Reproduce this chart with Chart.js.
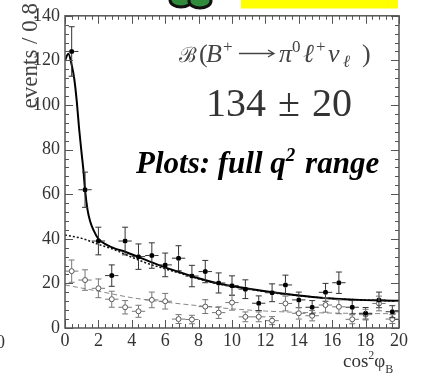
<!DOCTYPE html>
<html>
<head>
<meta charset="utf-8">
<script src="https://cdn.jsdelivr.net/npm/chart.js@4.4.1/dist/chart.umd.min.js"></script>
<style>
  html, body { margin: 0; padding: 0; background: #fff; }
  #wrap { position: relative; width: 422px; height: 383px; overflow: hidden; }
</style>
</head>
<body>
<div id="wrap"><canvas id="fitCanvas" width="422" height="383"></canvas></div>
<script>
// ===== 資料 =====
const binCenters = [0.4, 1.2, 2.0, 2.8, 3.6, 4.4, 5.2, 6.0, 6.8, 7.6, 8.4, 9.2, 10.0,
  10.8, 11.6, 12.4, 13.2, 14.0, 14.8, 15.6, 16.4, 17.2, 18.0, 18.8, 19.6];
const binHalfWidth = 0.4;

// signal region (filled points)
const sigCounts = [124, 62, 39, 23.5, 39, 32, 32.5, 28.3, 31.3, 23.3, 25.3, 20.2, 19,
  17.4, 11.1, 15.8, 19.3, 12.6, 9.3, 16, 20.3, 9.3, 6.6, 12.6, 7.3];
const sigErrors = [11.1, 7.9, 6.2, 4.8, 6.2, 5.7, 5.7, 5.3, 5.6, 4.8, 5.0, 4.5, 4.4,
  4.2, 3.3, 4.0, 4.4, 3.5, 3.0, 4.0, 4.8, 3.0, 2.6, 3.5, 2.7];

// sideband / control sample (open points)
const ctrlCounts = [25.5, 21.5, 17.8, 12.9, 9.3, 7.5, 12.6, 12.0, 4.0, 3.8, 9.6, 6.9, 11.4,
  5.0, 5.0, 3.3, 11.0, 6.6, 5.5, 10.3, 9.5, 3.9, 6.0, 11.0, 4.0];
const ctrlErrors = [5.0, 4.6, 4.2, 3.6, 3.0, 2.7, 3.5, 3.5, 2.0, 1.9, 3.1, 2.6, 3.4,
  2.2, 2.2, 1.8, 3.3, 2.6, 2.3, 3.2, 3.1, 2.0, 2.4, 3.3, 2.0];

// total fit (solid)
const totalFitX = [0, 0.2, 0.4, 0.55, 0.7, 0.85, 1.0, 1.1, 1.2, 1.35, 1.5, 1.7, 2.0, 2.5,
  3.0, 3.6, 4.4, 5, 6, 7, 8, 9, 10, 11, 12, 13, 14, 15, 16, 17, 18, 19, 20];
const totalFitY = [120, 123, 118, 112, 102, 89, 78, 71, 62, 53, 48, 44, 40, 37.3,
  35.6, 34.2, 31.8, 30, 27.2, 24.7, 22.3, 20.3, 18.8, 17.6, 16.5, 15.5, 14.6, 13.8,
  13.2, 12.8, 12.5, 12.3, 12.2];

// background part of the fit (dotted)
const bkgFitX = [0, 1, 2, 3, 3.6, 4.4, 5, 6, 7, 8, 9, 10, 11, 12, 13, 14, 15, 16, 17, 18, 19, 20];
const bkgFitY = [41.7, 40.2, 37.5, 35, 33, 30.5, 28.8, 26.5, 24.3, 22, 20.1, 18.6, 17.4,
  16.3, 15.3, 14.5, 13.8, 13.2, 12.8, 12.5, 12.3, 12.1];

// control sample fit (grey dashed)
const ctrlFitX = [0, 2, 4, 6, 8, 10, 12, 14, 16, 18, 20];
const ctrlFitY = [19.3, 16.5, 13.6, 11.6, 10, 8.6, 7.6, 7.0, 6.7, 6.5, 6.4];

const xTickStep = 2, xMinorStep = 0.4;
const yTickStep = 20, yMinorStep = 4;
const xRange = [0, 20], yRange = [0, 140];

const toPoints = (xs, ys) => xs.map((x, i) => ({ x, y: ys[i] }));

// ===== 誤差棒 =====
const errorBars = {
  id: "errorBars",
  afterDatasetsDraw(chart) {
    const { ctx } = chart;
    const xs = chart.scales.x, ys = chart.scales.y;
    chart.data.datasets.forEach((ds) => {
      if (!ds.yErr) return;
      const r = ds.pointRadius || 0;
      ctx.save();
      ctx.strokeStyle = ds.errColor;
      ctx.lineWidth = 1;
      ds.data.forEach((p, j) => {
        const px = xs.getPixelForValue(p.x);
        const py = ys.getPixelForValue(p.y);
        const top = ys.getPixelForValue(p.y + ds.yErr[j]);
        const bot = ys.getPixelForValue(Math.max(0, p.y - ds.yErr[j]));
        const xl = xs.getPixelForValue(p.x - binHalfWidth);
        const xr = xs.getPixelForValue(p.x + binHalfWidth);
        ctx.beginPath();
        ctx.moveTo(px, top); ctx.lineTo(px, py - r);
        ctx.moveTo(px, py + r); ctx.lineTo(px, bot);
        ctx.moveTo(px - 3, top); ctx.lineTo(px + 3, top);
        ctx.moveTo(px - 3, bot); ctx.lineTo(px + 3, bot);
        ctx.moveTo(xl, py); ctx.lineTo(px - r, py);
        ctx.moveTo(px + r, py); ctx.lineTo(xr, py);
        ctx.stroke();
      });
      ctx.restore();
    });
  },
};

// ===== 外框、刻度、文字 =====
function drawRich(ctx, parts, x, y) {
  let cx = x;
  parts.forEach((p) => {
    ctx.font = p.font;
    ctx.fillText(p.text, cx, y + (p.dy || 0));
    cx += ctx.measureText(p.text).width + (p.gap || 0);
  });
}

// 每個片段放在指定的 x 位置
function drawPlaced(ctx, parts, y) {
  parts.forEach((p) => {
    ctx.font = p.font;
    ctx.fillText(p.text, p.x, y + (p.dy || 0));
  });
}

const frameAndText = {
  id: "frameAndText",
  afterDraw(chart) {
    const { ctx, chartArea: a } = chart;
    const xs = chart.scales.x, ys = chart.scales.y;
    ctx.save();

    // frame
    ctx.strokeStyle = "#555";
    ctx.lineWidth = 1.5;
    ctx.strokeRect(a.left, a.top, a.right - a.left, a.bottom - a.top);

    // ticks on all four sides, pointing inward
    ctx.lineWidth = 1;
    ctx.beginPath();
    for (let v = xRange[0]; v <= xRange[1] + 1e-6; v += xMinorStep) {
      const major = Math.abs(v / xTickStep - Math.round(v / xTickStep)) < 1e-6;
      const len = major ? 8 : 4;
      const px = Math.round(xs.getPixelForValue(v)) + 0.5;
      ctx.moveTo(px, a.bottom); ctx.lineTo(px, a.bottom - len);
      ctx.moveTo(px, a.top); ctx.lineTo(px, a.top + len);
    }
    for (let v = yRange[0]; v <= yRange[1] + 1e-6; v += yMinorStep) {
      const major = v % yTickStep === 0;
      const len = major ? 8 : 4;
      const py = Math.round(ys.getPixelForValue(v)) + 0.5;
      ctx.moveTo(a.left, py); ctx.lineTo(a.left + len, py);
      ctx.moveTo(a.right, py); ctx.lineTo(a.right - len, py);
    }
    ctx.stroke();

    const f = "'Liberation Serif', 'DejaVu Serif', serif";

    // y axis title
    ctx.save();
    ctx.fillStyle = "#444";
    ctx.font = `23px ${f}`;
    ctx.translate(31, 3);
    ctx.rotate(-Math.PI / 2);
    ctx.textAlign = "right";
    ctx.textBaseline = "middle";
    ctx.fillText("events / 0.8", 0, 0);
    ctx.restore();

    // x axis title
    ctx.fillStyle = "#333";
    ctx.textBaseline = "alphabetic";
    drawRich(ctx, [
      { text: "cos", font: `19px ${f}` },
      { text: "2", font: `12px ${f}`, dy: -8 },
      { text: "φ", font: `19px ${f}` },
      { text: "B", font: `12px ${f}`, dy: 6 },
    ], 343, 367);

    // stray label from the neighbouring panel
    ctx.font = `18px ${f}`;
    ctx.textAlign = "right";
    ctx.fillText("0", 5, 348);
    ctx.textAlign = "left";

    // branching fraction label
    ctx.fillStyle = "#444";
    drawPlaced(ctx, [
      { text: "ℬ", font: `21px ${f}`, x: 179 },
      { text: "(", font: `26px ${f}`, x: 199 },
      { text: "B", font: `italic 26px ${f}`, x: 206 },
      { text: "+", font: `17px ${f}`, x: 223, dy: -10 },
      { text: "π", font: `italic 26px ${f}`, x: 279 },
      { text: "0", font: `17px ${f}`, x: 292, dy: -10 },
      { text: "ℓ", font: `italic 26px ${f}`, x: 303 },
      { text: "+", font: `17px ${f}`, x: 316, dy: -10 },
      { text: "ν", font: `italic 26px ${f}`, x: 328 },
      { text: "ℓ", font: `italic 17px ${f}`, x: 343, dy: 5 },
      { text: ")", font: `26px ${f}`, x: 362 },
    ], 62);
    // long arrow
    ctx.strokeStyle = "#444";
    ctx.lineWidth = 1.3;
    ctx.beginPath();
    ctx.moveTo(239, 53.5); ctx.lineTo(273, 53.5);
    ctx.moveTo(268, 50); ctx.lineTo(274, 53.5); ctx.lineTo(268, 57);
    ctx.stroke();

    ctx.fillStyle = "#333";
    drawRich(ctx, [
      { text: "134", font: `40px ${f}`, gap: 12 },
      { text: "±", font: `40px ${f}`, gap: 12 },
      { text: "20", font: `40px ${f}` },
    ], 206, 116);

    ctx.fillStyle = "#000";
    drawRich(ctx, [
      { text: "Plots: full q", font: `italic bold 31px ${f}` },
      { text: "2", font: `italic bold 19px ${f}`, dy: -12, gap: 2 },
      { text: " range", font: `italic bold 31px ${f}` },
    ], 136, 173);

    // header decorations (cut off at the top)
    ctx.fillStyle = "#ffff00";
    ctx.fillRect(241, 0, 157, 8.5);
    ctx.fillStyle = "#2f8a3c";
    ctx.strokeStyle = "#111";
    ctx.lineWidth = 3;
    ctx.beginPath();
    ctx.ellipse(181, 0, 11, 7, 0, 0, Math.PI * 2);
    ctx.fill(); ctx.stroke();
    ctx.beginPath();
    ctx.ellipse(200, 1, 11, 7, 0, 0, Math.PI * 2);
    ctx.fill(); ctx.stroke();

    ctx.restore();
  },
};

// ===== 圖表 =====
const canvas = document.getElementById("fitCanvas");
const serif = "'Liberation Serif', serif";

new Chart(canvas, {
  type: "scatter",
  data: {
    datasets: [
      {
        label: "signal",
        data: toPoints(binCenters, sigCounts),
        yErr: sigErrors,
        errColor: "#333",
        pointRadius: 2.5,
        pointBackgroundColor: "#000",
        pointBorderColor: "#000",
        pointBorderWidth: 0,
      },
      {
        label: "control",
        data: toPoints(binCenters, ctrlCounts),
        yErr: ctrlErrors,
        errColor: "#777",
        pointRadius: 2.5,
        pointBackgroundColor: "#fff",
        pointBorderColor: "#555",
        pointBorderWidth: 1,
      },
      {
        label: "total fit",
        data: toPoints(totalFitX, totalFitY),
        showLine: true,
        borderColor: "#000",
        borderWidth: 2,
        pointRadius: 0,
        cubicInterpolationMode: "monotone",
      },
      {
        label: "background fit",
        data: toPoints(bkgFitX, bkgFitY),
        showLine: true,
        borderColor: "#111",
        borderWidth: 1.5,
        borderDash: [2, 2],
        pointRadius: 0,
        cubicInterpolationMode: "monotone",
      },
      {
        label: "control fit",
        data: toPoints(ctrlFitX, ctrlFitY),
        showLine: true,
        borderColor: "#888",
        borderWidth: 1,
        borderDash: [5, 3],
        pointRadius: 0,
        cubicInterpolationMode: "monotone",
      },
    ],
  },
  options: {
    responsive: false,
    animation: false,
    devicePixelRatio: 1,
    layout: { padding: { top: 15, right: 23, left: 0, bottom: 0 } },
    plugins: {
      legend: { display: false },
      tooltip: { enabled: false },
    },
    scales: {
      x: {
        type: "linear",
        min: xRange[0],
        max: xRange[1],
        afterFit: (scale) => { scale.height = 55; },
        border: { display: false },
        grid: { display: true, drawOnChartArea: false, drawTicks: false, lineWidth: 0 },
        ticks: {
          stepSize: xTickStep,
          autoSkip: false,
          maxRotation: 0,
          padding: 2,
          color: "#333",
          font: { family: serif, size: 18 },
        },
      },
      y: {
        type: "linear",
        min: yRange[0],
        max: yRange[1],
        afterFit: (scale) => { scale.width = 65; },
        border: { display: false },
        grid: { display: true, drawOnChartArea: false, drawTicks: false, lineWidth: 0 },
        ticks: {
          stepSize: yTickStep,
          autoSkip: false,
          padding: 5,
          color: "#333",
          font: { family: serif, size: 18 },
        },
      },
    },
  },
  plugins: [errorBars, frameAndText],
});
</script>
</body>
</html>
